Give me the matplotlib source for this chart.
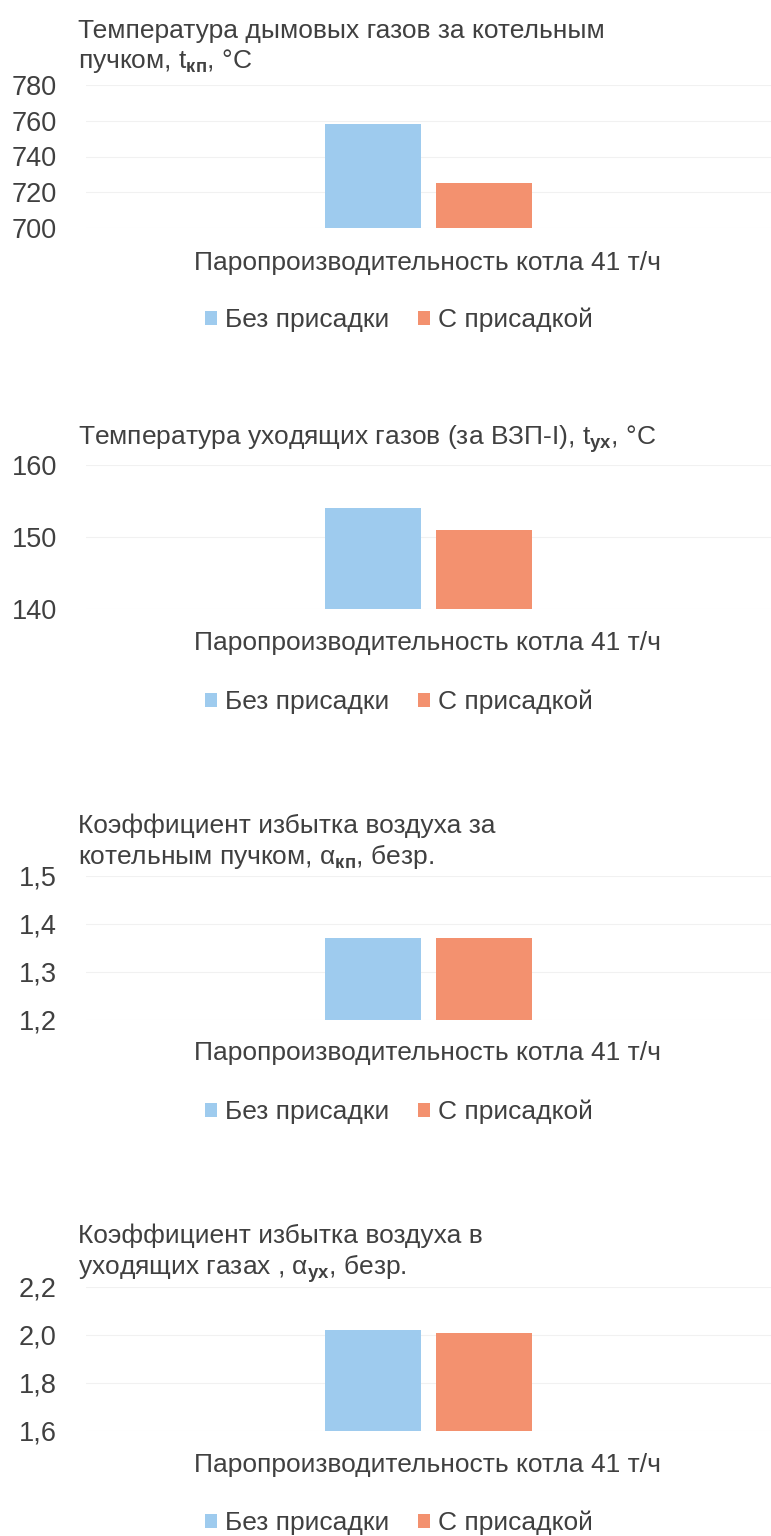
import matplotlib
matplotlib.use("Agg")
import matplotlib.pyplot as plt
from matplotlib.patches import Patch

plt.rcParams["font.family"] = ["Liberation Sans", "DejaVu Sans"]
plt.rcParams["mathtext.fontset"] = "custom"
plt.rcParams["mathtext.rm"] = "Liberation Sans"
plt.rcParams["mathtext.it"] = "Liberation Sans:italic"
plt.rcParams["mathtext.bf"] = "Liberation Sans:bold"

# --- data -------------------------------------------------------------
series_names = ["Без присадки", "С присадкой"]
category_label = "Паропроизводительность котла 41 т/ч"

titles = [
    "Температура дымовых газов за котельным\nпучком, t$\\mathbf{_{кп}}$, °C",
    "Температура уходящих газов (за ВЗП-I), t$\\mathbf{_{ух}}$, °C",
    "Коэффициент избытка воздуха за\nкотельным пучком, α$\\mathbf{_{кп}}$, безр.",
    "Коэффициент избытка воздуха в\nуходящих газах , α$\\mathbf{_{ух}}$, безр.",
]

flue_gas_temp = [758, 725]          # t_кп, °C
exit_gas_temp = [154, 151]          # t_ух, °C
excess_air_bundle = [1.37, 1.37]    # α_кп
excess_air_exit = [2.02, 2.01]      # α_ух

ticks_1 = [700, 720, 740, 760, 780]
ticks_2 = [140, 150, 160]
ticks_3 = [1.2, 1.3, 1.4, 1.5]
ticks_4 = [1.6, 1.8, 2.0, 2.2]

tick_labels_1 = ["700", "720", "740", "760", "780"]
tick_labels_2 = ["140", "150", "160"]
tick_labels_3 = ["1,2", "1,3", "1,4", "1,5"]
tick_labels_4 = ["1,6", "1,8", "2,0", "2,2"]

panels = [
    (titles[0], flue_gas_temp, ticks_1, tick_labels_1),
    (titles[1], exit_gas_temp, ticks_2, tick_labels_2),
    (titles[2], excess_air_bundle, ticks_3, tick_labels_3),
    (titles[3], excess_air_exit, ticks_4, tick_labels_4),
]

# --- layout (pixels) --------------------------------------------------
W, H = 771, 1536
colors = ["#9ecbee", "#f3916f"]
text_color = "#404040"

# plot area top/bottom, title top, x-label and legend centres
layout = [
    dict(top=85, bottom=228, title_y=19, xlabel_y=263, legend_y=320),
    dict(top=465, bottom=609, title_y=423, xlabel_y=643, legend_y=702),
    dict(top=876, bottom=1019.5, title_y=813, xlabel_y=1053, legend_y=1112),
    dict(top=1287, bottom=1431, title_y=1224, xlabel_y=1465, legend_y=1523),
]
ax_left, ax_right = 86, 771

fig = plt.figure(figsize=(W / 100, H / 100), dpi=100)
fig.patch.set_facecolor("white")

def fx(px):
    return px / W

def fy(py):
    return 1 - py / H

bar_w = 0.139
offsets = [-0.081, 0.081]

for (title, values, ticks, tick_labels), lay in zip(panels, layout):
    ax = fig.add_axes([fx(ax_left), fy(lay["bottom"]), fx(ax_right - ax_left),
                       (lay["bottom"] - lay["top"]) / H])
    ax.set_xlim(-0.5, 0.5)
    ax.set_ylim(ticks[0], ticks[-1])
    for off, v, c, name in zip(offsets, values, colors, series_names):
        ax.bar(off, v - ticks[0], bottom=ticks[0], width=bar_w, color=c,
               label=name, zorder=2)
    ax.set_yticks(ticks)
    ax.set_yticklabels(tick_labels)
    ax.set_xticks([])
    ax.tick_params(axis="y", length=0, pad=21, labelsize=19.5, labelcolor=text_color)
    ax.grid(axis="y", color="#f1f1f1", linewidth=0.8, zorder=0)
    for s in ax.spines.values():
        s.set_visible(False)

    fig.text(fx(78), fy(lay["title_y"]), title, ha="left", va="top",
             fontsize=19, color=text_color, linespacing=1.19)
    fig.text(fx(428), fy(lay["xlabel_y"]), category_label, ha="center",
             va="center", fontsize=19, color=text_color)
    handles = [Patch(facecolor=c, edgecolor="none") for c in colors]
    fig.legend(handles, series_names, loc="center",
               bbox_to_anchor=(fx(399), fy(lay["legend_y"])), ncol=2,
               frameon=False, fontsize=19, handlelength=0.45, handleheight=0.45,
               handletextpad=0.3, columnspacing=1.1, labelcolor=text_color)

fig.savefig("out.png", dpi=100, facecolor="white")
